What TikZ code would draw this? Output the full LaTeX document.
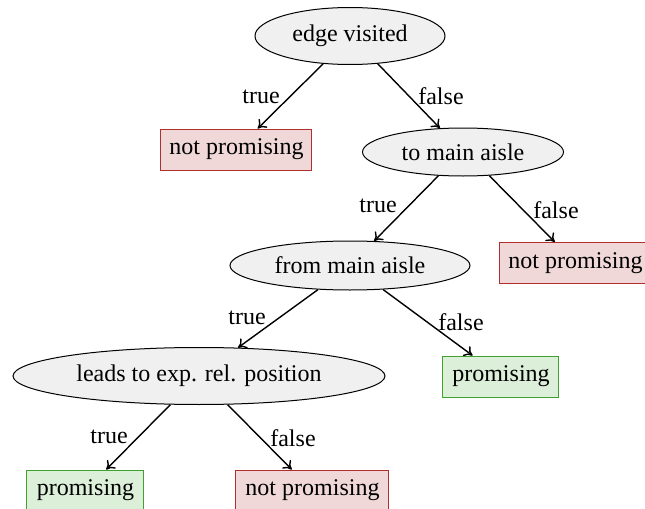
\documentclass[tikz,border=0pt]{standalone}
\usepackage{fontspec}
\setmainfont{Liberation Serif}
\usetikzlibrary{shapes.geometric,arrows.meta}
\definecolor{testfill}{HTML}{F0F0F0}
\definecolor{badfill}{HTML}{F0D8D8}
\definecolor{baddraw}{HTML}{B03030}
\definecolor{goodfill}{HTML}{DCEFD8}
\definecolor{gooddraw}{HTML}{40A030}
\tikzset{
  test/.style={ellipse, draw=black, fill=testfill, line width=0.5pt, inner sep=0pt, font=\fontsize{12}{14}\selectfont},
  bad/.style={rectangle, draw=baddraw, fill=badfill, line width=0.5pt, inner sep=0pt, minimum height=20.5pt, font=\fontsize{12}{14}\selectfont},
  good/.style={rectangle, draw=gooddraw, fill=goodfill, line width=0.5pt, inner sep=0pt, minimum height=20.5pt, font=\fontsize{12}{14}\selectfont},
  branch/.style={-{To[length=4pt,width=6pt]}, line width=0.7pt},
  lbl/.style={inner sep=0pt, font=\fontsize{12}{14}\selectfont}
}
\begin{document}
\begin{tikzpicture}[x=0.5pt,y=-0.5pt]
\useasboundingbox (0,0) rectangle (645,509);
\clip (0,0) rectangle (645,509);
% decision nodes
\node[test, minimum width=95pt, minimum height=28.5pt] (ev) at (350,36) {edge visited};
\node[test, minimum width=100.5pt, minimum height=24pt] (tma) at (463,152) {to main aisle};
\node[test, minimum width=120pt, minimum height=24.5pt] (fma) at (350,265.5) {from main aisle};
\node[test, minimum width=186pt, minimum height=28.5pt] (lead) at (199,376) {leads to exp. rel. position};
% outcomes
\node[bad, minimum width=75.5pt] (np1) at (236.5,149.5) {not promising};
\node[bad, minimum width=75.5pt] (np2) at (575.5,263) {not promising};
\node[good, minimum width=58pt] (pr1) at (501,376.5) {promising};
\node[good, minimum width=58.5pt] (pr2) at (85.5,490.5) {promising};
\node[bad, minimum width=76.5pt] (np3) at (312.5,490.5) {not promising};
% branches
\draw[branch] (ev.226) -- (np1);
\draw[branch] (ev.315) -- (tma);
\draw[branch] (tma.224) -- (fma);
\draw[branch] (tma.318) -- (np2);
\draw[branch] (fma.217) -- (lead);
\draw[branch] (fma.324) -- (pr1);
\draw[branch] (lead.225) -- (pr2);
\draw[branch] (lead.315) -- (np3);
% branch labels
\node[lbl] (t1) at (261,97) {true};
\node[lbl] (f1) at (441,96) {false};
\node[lbl] (t2) at (378,206) {true};
\node[lbl] (f2) at (556,210) {false};
\node[lbl] (t3) at (247,318) {true};
\node[lbl] (f3) at (461,322) {false};
\node[lbl] (t4) at (109,437) {true};
\node[lbl] (f4) at (293,438) {false};
\end{tikzpicture}
\end{document}
